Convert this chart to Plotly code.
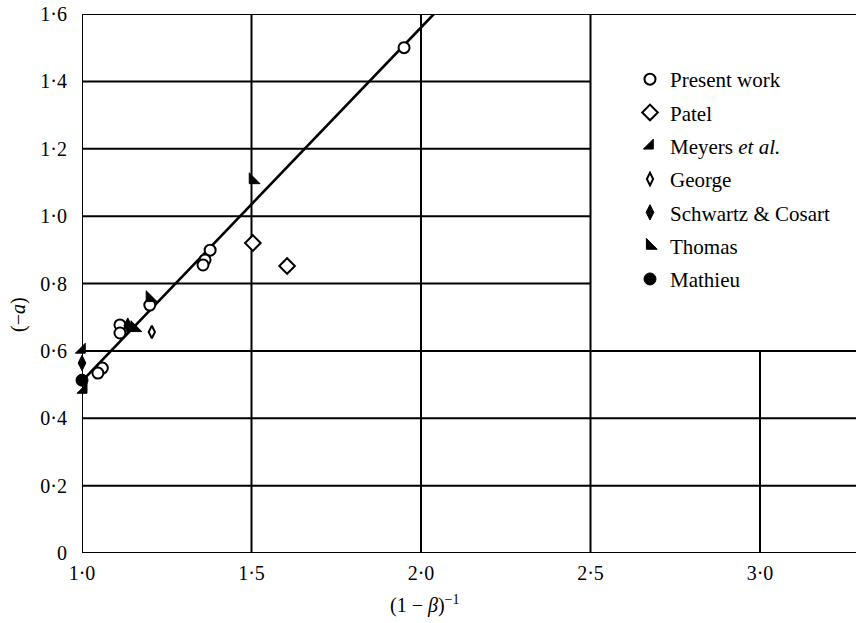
import plotly.graph_objects as go

# ---- data ----
present_x = [1.95, 1.378, 1.363, 1.357, 1.20, 1.112, 1.112, 1.06, 1.047]
present_y = [1.50, 0.899, 0.870, 0.855, 0.736, 0.677, 0.653, 0.549, 0.534]
patel_x = [1.504, 1.605]
patel_y = [0.920, 0.852]
meyers_x = [1.0, 1.005]
meyers_y = [0.603, 0.484]
george_x = [1.206]
george_y = [0.656]
schwartz_x = [1.0, 1.135]
schwartz_y = [0.564, 0.675]
thomas_x = [1.504, 1.20, 1.155]
thomas_y = [1.107, 0.757, 0.668]
mathieu_x = [1.0]
mathieu_y = [0.513]
fit_x = [1.0, 2.038]
fit_y = [0.51, 1.60]

x_ticks = [1.0, 1.5, 2.0, 2.5, 3.0]
x_tick_text = ["1·0", "1·5", "2·0", "2·5", "3·0"]
y_ticks = [0, 0.2, 0.4, 0.6, 0.8, 1.0, 1.2, 1.4, 1.6]
y_tick_text = ["0", "0·2", "0·4", "0·6", "0·8", "1·0", "1·2", "1·4", "1·6"]

X_MAX = 1.0 + 774 / 339.0
SERIF = "Liberation Serif"
LW = 2

fig = go.Figure()

fig.add_trace(go.Scatter(x=fit_x, y=fit_y, mode="lines",
                         line=dict(color="black", width=2.6),
                         showlegend=False, hoverinfo="skip"))

def pts(name, xs, ys, symbol, size, fill, lw=1.8):
    fig.add_trace(go.Scatter(
        x=xs, y=ys, mode="markers", name=name, legendgroup=name,
        cliponaxis=False,
        marker=dict(symbol=symbol, size=size, color=fill,
                    line=dict(color="black", width=lw))))

pts("Present work", present_x, present_y, "circle", 11, "white", 2)
pts("Patel", patel_x, patel_y, "diamond", 12, "white", 2)
pts("Meyers <i>et al.</i>", meyers_x, meyers_y, "triangle-se", 11, "black", 1)
pts("George", george_x, george_y, "diamond-tall", 9, "white", 2)
pts("Schwartz &amp; Cosart", schwartz_x, schwartz_y, "diamond-tall", 11, "black", 1)
pts("Thomas", thomas_x, thomas_y, "triangle-sw", 12, "black", 1)
pts("Mathieu", mathieu_x, mathieu_y, "circle", 12, "black", 1)

shapes = []
def hline(y, x0, x1):
    shapes.append(dict(type="line", xref="x", yref="y", x0=x0, x1=x1, y0=y, y1=y,
                       line=dict(color="black", width=LW), layer="below"))
def vline(x, y0, y1):
    shapes.append(dict(type="line", xref="x", yref="y", x0=x, x1=x, y0=y0, y1=y1,
                       line=dict(color="black", width=LW), layer="below"))

for yv in y_ticks:
    if yv <= 0.6 or yv >= 1.6:
        hline(yv, 1.0, X_MAX)
    else:
        hline(yv, 1.0, 2.5)
for xv in x_ticks:
    if xv <= 2.5:
        vline(xv, 0, 1.6)
    else:
        vline(xv, 0, 0.6)

fig.update_layout(
    width=856, height=623,
    margin=dict(l=82, r=0, t=14, b=70),
    paper_bgcolor="white", plot_bgcolor="white",
    font=dict(family=SERIF, size=20, color="black"),
    shapes=shapes,
    showlegend=True,
    legend=dict(x=0.708, y=0.9165, xanchor="left", yanchor="top",
                font=dict(family=SERIF, size=21, color="black"),
                tracegroupgap=3, traceorder="grouped",
                bgcolor="rgba(0,0,0,0)", itemclick=False),
    xaxis=dict(range=[1.0, X_MAX], tickvals=x_ticks, ticktext=x_tick_text,
               showgrid=False, zeroline=False, showline=False, ticks="",
               ticklabelstandoff=6, tickfont=dict(family=SERIF, size=20)),
    yaxis=dict(range=[0, 1.6], tickvals=y_ticks, ticktext=y_tick_text,
               showgrid=False, zeroline=False, showline=False, ticks="",
               ticklabelstandoff=14, tickfont=dict(family=SERIF, size=20)),
    annotations=[
        dict(text="(1 − <i>β</i>)<sup>−1</sup>", xref="paper", yref="paper",
             x=(425 - 82) / 774, y=(553 - 604) / 539, xanchor="center", yanchor="middle",
             showarrow=False, font=dict(family=SERIF, size=20)),
        dict(text="(−<i>a</i>)", xref="paper", yref="paper",
             x=(18 - 82) / 774, y=1 - (315 - 14) / 539, xanchor="center", yanchor="middle",
             textangle=-90, showarrow=False, font=dict(family=SERIF, size=20)),
    ],
)

fig.write_html("out.html")
